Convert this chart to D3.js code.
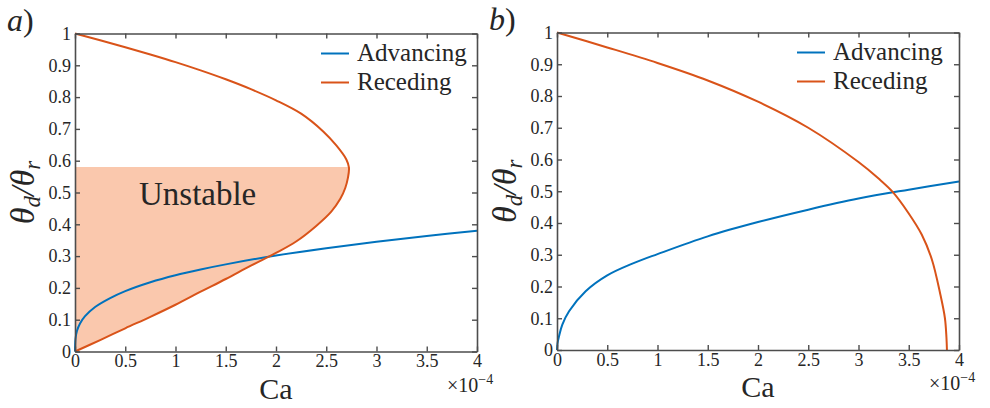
<!DOCTYPE html>
<html>
<head>
<meta charset="utf-8">
<script src="https://cdn.jsdelivr.net/npm/d3@7"></script>
<style>
  html, body { margin: 0; padding: 0; background: #fff; }
  svg { display: block; }
  svg text { font-family: "Liberation Serif", serif; fill: #262626; }
</style>
</head>
<body>
<svg id="fig" width="990" height="408"></svg>
<script>
// Axis ticks (Ca in units of 1e-4)
const caTicks = [0, 0.5, 1, 1.5, 2, 2.5, 3, 3.5, 4];
const thetaTicks = [0, 0.1, 0.2, 0.3, 0.4, 0.5, 0.6, 0.7, 0.8, 0.9, 1];
const caTickLabels = ["0", "0.5", "1", "1.5", "2", "2.5", "3", "3.5", "4"];
const thetaTickLabels = ["0", "0.1", "0.2", "0.3", "0.4", "0.5", "0.6", "0.7", "0.8", "0.9", "1"];
const seriesNames = ["Advancing", "Receding"];

// Panel a) advancing branch
const advCaA = [0, 0.005, 0.02, 0.05, 0.1, 0.2, 0.35, 0.5, 0.75, 1, 1.25, 1.5, 2, 2.5, 3, 3.5, 4];
const advThA = [0, 0.040, 0.065, 0.088, 0.111, 0.140, 0.168, 0.190, 0.218, 0.240, 0.258, 0.274, 0.302, 0.325, 0.345, 0.363, 0.380];

// Panel a) receding branch, traced from (0,1) round the turning point back to (0,0)
const recCaA = [0, 0.25, 0.5, 0.75, 1.0, 1.25, 1.5, 1.75, 2.0, 2.25, 2.47, 2.60, 2.70, 2.726,
                2.715, 2.69, 2.64, 2.55, 2.40, 2.20, 2.0, 1.75, 1.5, 1.25, 1.0, 0.75, 0.5, 0.25, 0];
const recThA = [1.0, 0.979, 0.957, 0.934, 0.910, 0.884, 0.856, 0.825, 0.790, 0.748, 0.692, 0.648, 0.604, 0.578,
                0.545, 0.515, 0.480, 0.440, 0.395, 0.346, 0.310, 0.270, 0.228, 0.188, 0.147, 0.109, 0.073, 0.036, 0];

// Upper limit of the unstable band in panel a)
const unstableTop = 0.58;

// Panel b) advancing branch
const advCaB = [0, 0.005, 0.02, 0.053, 0.12, 0.285, 0.5, 0.75, 1.0, 1.5, 2.0, 2.5, 3.0, 3.5, 4.0];
const advThB = [0, 0.020, 0.043, 0.080, 0.122, 0.185, 0.235, 0.272, 0.302, 0.358, 0.403, 0.442, 0.477, 0.505, 0.531];

// Panel b) receding branch
const recCaB = [0, 0.5, 1.0, 1.5, 2.0, 2.5, 3.0, 3.2, 3.34, 3.5, 3.63, 3.73, 3.815, 3.86, 3.875, 3.88];
const recThB = [1.0, 0.953, 0.904, 0.849, 0.782, 0.700, 0.592, 0.540, 0.498, 0.430, 0.363, 0.285, 0.174, 0.100, 0.040, 0];

const colAdv = "#0072BD";
const colRec = "#D95319";
const colFill = "#fac8ad";
const colAxis = "#4d4d4d";
const serif = "'Liberation Serif', serif";

const svg = d3.select("#fig");

function zip(xs, ys) { return xs.map((v, i) => ({ ca: v, th: ys[i] })); }

function panel(opt) {
  const x = d3.scaleLinear().domain([0, 4]).range([opt.left, opt.right]);
  const y = d3.scaleLinear().domain([0, 1]).range([opt.bottom, opt.top]);
  const g = svg.append("g");
  const smooth = d3.curveCatmullRom.alpha(0.5);

  // shaded region between the vertical axis and the lower receding branch
  if (opt.fill) {
    const area = d3.area()
      .curve(smooth)
      .y(d => y(d.th))
      .x0(x(0))
      .x1(d => x(d.ca));
    g.append("path").datum(opt.fill)
      .attr("d", area)
      .attr("fill", colFill)
      .attr("stroke", "none");
  }
  if (opt.label) {
    g.append("text")
      .attr("x", x(opt.label.ca)).attr("y", y(opt.label.th))
      .attr("text-anchor", "middle")
      .style("font-family", serif)
      .style("font-size", "33px")
      .text(opt.label.text);
  }

  const line = d3.line().curve(smooth).x(d => x(d.ca)).y(d => y(d.th));

  g.append("path").datum(opt.adv).attr("d", line)
    .attr("fill", "none").attr("stroke", colAdv).attr("stroke-width", 2);
  g.append("path").datum(opt.rec).attr("d", line)
    .attr("fill", "none").attr("stroke", colRec).attr("stroke-width", 2);

  // axes with inward ticks on all four sides
  const fmtX = (d, i) => caTickLabels[i];
  const fmtY = (d, i) => thetaTickLabels[i];
  const axes = [
    [d3.axisBottom(x).tickValues(caTicks).tickFormat(fmtX).tickSize(-5).tickSizeOuter(0).tickPadding(3), `translate(0,${opt.bottom})`, true],
    [d3.axisTop(x).tickValues(caTicks).tickSize(-5).tickSizeOuter(0), `translate(0,${opt.top})`, false],
    [d3.axisLeft(y).tickValues(thetaTicks).tickFormat(fmtY).tickSize(-5).tickSizeOuter(0).tickPadding(4), `translate(${opt.left},0)`, true],
    [d3.axisRight(y).tickValues(thetaTicks).tickSize(-5).tickSizeOuter(0), `translate(${opt.right},0)`, false]
  ];
  axes.forEach(([ax, tr, labels]) => {
    const a = g.append("g").attr("transform", tr).call(ax).attr("font-family", null).attr("font-size", null);
    a.selectAll("path.domain").attr("stroke", colAxis).attr("stroke-width", 1.6);
    a.selectAll(".tick line").attr("stroke", colAxis).attr("stroke-width", 1.4);
    a.selectAll(".tick text")
      .style("font-family", serif)
      .style("font-size", "18px")
      .attr("fill", "#262626");
    if (!labels) a.selectAll(".tick text").remove();
  });

  // axis titles
  const cx = (opt.left + opt.right) / 2;
  g.append("text").attr("x", cx).attr("y", opt.bottom + 47)
    .attr("text-anchor", "middle").style("font-family", serif).style("font-size", "30px").text("Ca");
  const ex = g.append("text").attr("x", opt.right - 30).attr("y", opt.bottom + 40)
    .style("font-family", serif).style("font-size", "20px");
  ex.append("tspan").text("×10");
  ex.append("tspan").attr("dy", -8).style("font-size", "14px").text("−4");

  const yl = g.append("text")
    .attr("transform", `translate(${opt.left - 41},${(opt.top + opt.bottom) / 2}) rotate(-90)`)
    .attr("text-anchor", "middle")
    .style("font-family", serif)
    .style("font-size", "34px").style("font-style", "italic");
  yl.append("tspan").text("θ");
  yl.append("tspan").attr("dy", 6).style("font-size", "23px").text("d");
  yl.append("tspan").attr("dy", -6).text("/θ");
  yl.append("tspan").attr("dy", 6).style("font-size", "23px").text("r");

  // panel tag
  const tag = g.append("text").attr("x", opt.left - 68).attr("y", opt.top - 3)
    .style("font-family", serif).style("font-size", "32px");
  tag.append("tspan").style("font-style", "italic").text(opt.tag);
  tag.append("tspan").text(")");

  // legend
  const lg = g.append("g").attr("transform", `translate(${opt.right - opt.legendOffset},0)`);
  [colAdv, colRec].forEach((c, i) => {
    const ly = opt.top + 20 + i * 29;
    lg.append("line").attr("x1", 0).attr("x2", 28).attr("y1", ly).attr("y2", ly)
      .attr("stroke", c).attr("stroke-width", 2);
    lg.append("text").attr("x", 36).attr("y", ly + 7)
      .style("font-family", serif).style("font-size", "25px").text(seriesNames[i]);
  });
}

const recA = zip(recCaA, recThA);
const noseIdx = d3.maxIndex(recCaA);
const fillA = [{ ca: recCaA[noseIdx], th: unstableTop }].concat(recA.slice(noseIdx + 1));

panel({
  left: 75, right: 477, top: 33.5, bottom: 351.5, tag: "a",
  adv: zip(advCaA, advThA), rec: recA, fill: fillA,
  label: { ca: 1.22, th: 0.46, text: "Unstable" },
  legendOffset: 156
});

panel({
  left: 557, right: 959, top: 32.5, bottom: 350, tag: "b",
  adv: zip(advCaB, advThB), rec: zip(recCaB, recThB),
  legendOffset: 162
});
</script>
</body>
</html>
